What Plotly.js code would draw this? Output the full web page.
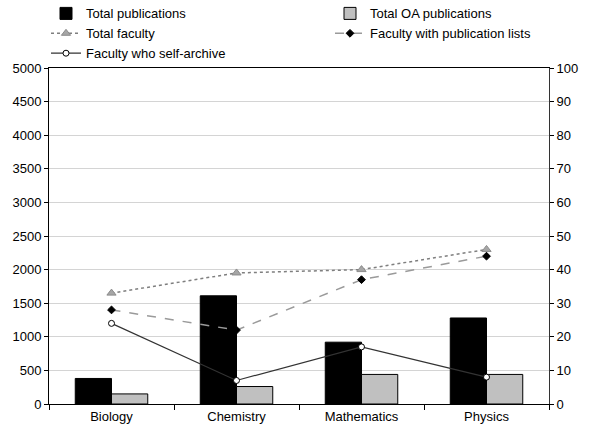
<!DOCTYPE html>
<html>
<head>
<meta charset="utf-8">
<script src="https://cdn.plot.ly/plotly-3.0.1.min.js"></script>
<style>html,body{margin:0;padding:0;background:#fff;}#chart{width:603px;height:438px;}</style>
</head>
<body>
<div id="chart"></div>
<script>
const categories = ["Biology", "Chemistry", "Mathematics", "Physics"];
const totalPublications = [380, 1610, 920, 1280];
const totalOAPublications = [150, 260, 440, 440];
const totalFaculty = [33, 39, 40, 46];
const facultyWithPubLists = [28, 22, 37, 44];
const facultySelfArchive = [24, 7, 17, 8];

const font = {family: "Liberation Sans, Arial, sans-serif", size: 13, color: "#000"};

const traces = [
  {type: "bar", name: "Total publications", x: categories, y: totalPublications, legend: "legend",
   marker: {color: "#000000", line: {color: "#000000", width: 1}}},
  {type: "bar", name: "Total OA publications", x: categories, y: totalOAPublications, legend: "legend2",
   marker: {color: "#c0c0c0", line: {color: "#000000", width: 1}}},
  {type: "scatter", mode: "lines+markers", name: "Total faculty", x: categories, y: totalFaculty, yaxis: "y2", legend: "legend",
   line: {color: "#7f7f7f", width: 1.5, dash: "dot"},
   marker: {symbol: "triangle-up", size: 8, color: "#a6a6a6", line: {color: "#8c8c8c", width: 1}}},
  {type: "scatter", mode: "lines+markers", name: "Faculty with publication lists", x: categories, y: facultyWithPubLists, yaxis: "y2", legend: "legend2",
   line: {color: "#9a9a9a", width: 1.5, dash: "dash"},
   marker: {symbol: "diamond", size: 6, color: "#000000", line: {color: "#000000", width: 1}}},
  {type: "scatter", mode: "lines+markers", name: "Faculty who self-archive", x: categories, y: facultySelfArchive, yaxis: "y2", legend: "legend",
   line: {color: "#333333", width: 1.2},
   marker: {symbol: "circle", size: 6, color: "#ffffff", line: {color: "#000000", width: 1}}}
];

const legendBase = {orientation: "v", xanchor: "left", y: 1.207, yanchor: "top", traceorder: "normal",
                    font: font, bgcolor: "rgba(0,0,0,0)", tracegroupgap: 0};

const layout = {
  width: 603, height: 438,
  margin: {l: 49, r: 54, t: 68, b: 34, pad: 0, autoexpand: false},
  paper_bgcolor: "#ffffff", plot_bgcolor: "#ffffff",
  font: font,
  barmode: "group", bargap: 0.42, bargroupgap: 0,
  showlegend: true,
  legend: Object.assign({}, legendBase, {x: -0.006}),
  legend2: Object.assign({}, legendBase, {x: 0.562}),
  xaxis: {type: "category", range: [-0.5, 3.5], tickson: "boundaries", ticks: "outside", ticklen: 5,
          tickcolor: "#000", showline: true, linecolor: "#000", linewidth: 1, mirror: true,
          showgrid: false, tickfont: font, fixedrange: true},
  yaxis: {range: [0, 5000], dtick: 500, ticks: "outside", ticklen: 4, tickcolor: "#000",
          showline: true, linecolor: "#000", linewidth: 1, showgrid: true, gridcolor: "#d4d4d4",
          zeroline: false, tickfont: font, fixedrange: true},
  yaxis2: {overlaying: "y", side: "right", range: [0, 100], dtick: 10, ticks: "outside", ticklen: 4,
           tickcolor: "#000", showline: true, linecolor: "#333", linewidth: 1, showgrid: false,
           zeroline: false, tickfont: font, fixedrange: true}
};

Plotly.newPlot("chart", traces, layout, {displayModeBar: false, staticPlot: true});
</script>
</body>
</html>
